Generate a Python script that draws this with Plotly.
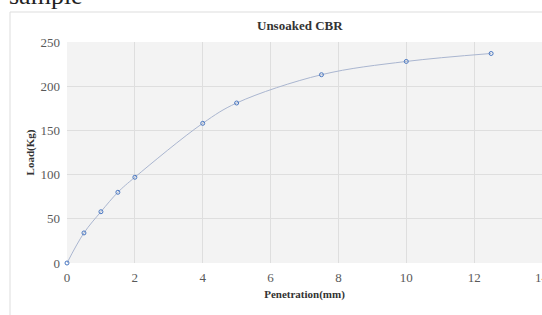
import plotly.graph_objects as go

penetration = [0, 0.5, 1, 1.5, 2, 4, 5, 7.5, 10, 12.5]
load = [0, 34, 58, 80, 97, 158, 181, 213, 228, 237]
x_ticks = [0, 2, 4, 6, 8, 10, 12, 14]
y_ticks = [0, 50, 100, 150, 200, 250]

W, H = 542, 315
L, R, T, B = 67, 0, 42, 52
pw, ph = W - L - R, H - T - B

def px(x):
    return (x - L) / pw

def py(y):
    return (H - B - y) / ph

fig = go.Figure()
fig.add_trace(go.Scatter(
    x=penetration, y=load, mode="lines+markers",
    line=dict(color="#aab6d0", width=1, shape="spline"),
    marker=dict(symbol="circle-open", size=4, color="#4a78c2", line=dict(width=1)),
    showlegend=False, cliponaxis=False,
))

serif = "Liberation Serif"
fig.update_layout(
    width=W, height=H,
    margin=dict(l=L, r=R, t=T, b=B),
    paper_bgcolor="white",
    plot_bgcolor="#f3f3f3",
    font=dict(family=serif, color="#595959", size=11),
    xaxis=dict(range=[0, 14], tickvals=x_ticks, showgrid=True, gridcolor="#dedede",
               gridwidth=1, zeroline=False, showline=False, ticks="",
               ticklabelstandoff=5,
               tickfont=dict(size=13, color="#595959"),
               title=dict(text="<b>Penetration(mm)</b>", font=dict(size=11, color="#333333"), standoff=6)),
    yaxis=dict(range=[0, 250], tickvals=y_ticks, showgrid=True, gridcolor="#dedede",
               gridwidth=1, zeroline=False, showline=False, ticks="",
               ticklabelstandoff=6,
               tickfont=dict(size=13, color="#595959"),
               title=dict(text="<b>Load(Kg)</b>", font=dict(size=11, color="#333333"), standoff=3)),
    annotations=[
        dict(text="<b>Unsoaked CBR</b>", xref="paper", yref="paper", x=px(300), y=py(25),
             xanchor="center", yanchor="middle", showarrow=False,
             font=dict(family=serif, size=13, color="#333333")),
        dict(text="sample", xref="paper", yref="paper", x=px(7), y=py(12),
             xanchor="left", yanchor="bottom", showarrow=False,
             font=dict(family=serif, size=26, color="#222222")),
        dict(text=str(x_ticks[-1]), xref="x", yref="paper", x=x_ticks[-1], y=py(277),
             xanchor="center", yanchor="middle", showarrow=False,
             font=dict(family=serif, size=13, color="#595959")),
    ],
    shapes=[
        dict(type="line", xref="paper", yref="paper", x0=px(10), x1=px(542), y0=py(12), y1=py(12),
             line=dict(color="#dddddd", width=1)),
        dict(type="line", xref="paper", yref="paper", x0=px(10), x1=px(10), y0=py(12), y1=py(315),
             line=dict(color="#dddddd", width=1)),
    ],
)

fig.write_html("out.html", config={"displayModeBar": False},
               post_script="document.body.style.margin='0';document.body.style.overflow='hidden';")
